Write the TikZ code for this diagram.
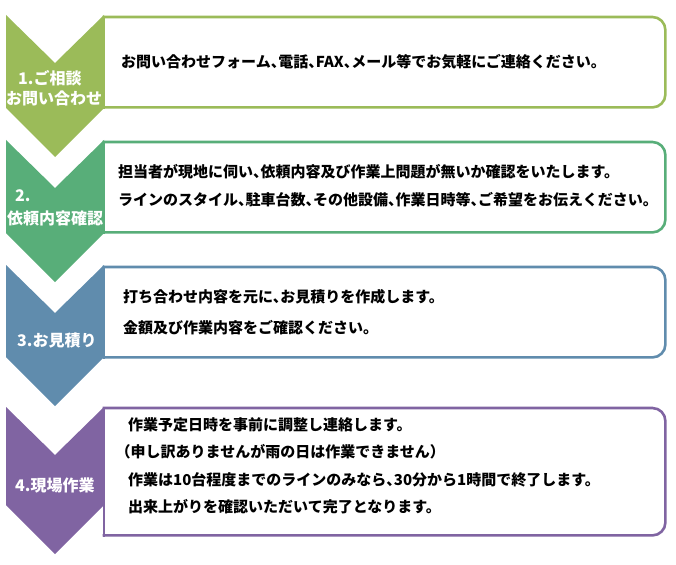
\documentclass[tikz,border=0pt]{standalone}
\usepackage{fontspec}
\setmainfont{Noto Sans CJK JP}[RawFeature=+halt]
\usetikzlibrary{positioning}

\definecolor{stepA}{RGB}{155,187,89}
\definecolor{stepB}{RGB}{88,174,121}
\definecolor{stepC}{RGB}{96,140,173}
\definecolor{stepD}{RGB}{128,100,162}

\newcommand{\chevron}[3]{% colour, top, bottom
  \fill[#1] (6,#2) -- (55,#2+48) -- (104,#2) -- (104,#3) -- (55,#3+49) -- (6,#3) -- cycle;}
\newcommand{\boxline}[2]{% node, colour
  \draw[#2,line width=2.6pt,line cap=rect,rounded corners=13pt] (#1.south west) -- (#1.south east) -- (#1.north east) -- (#1.north west);
  \draw[#2,line width=2.6pt,line cap=rect] (#1.south west) -- (#1.north west);}

\begin{document}
\begin{tikzpicture}[x=1pt,y=-1pt]
          \tikzstyle{every node}=[inner sep=0pt]
          \tikzstyle{stepbox}=[fill=white,anchor=north west,minimum width=561pt]
          \tikzstyle{body}=[anchor=west,font=\fontsize{15}{17}\selectfont\bfseries,text=black]
          \tikzstyle{label}=[anchor=west,font=\fontsize{16}{18}\selectfont\bfseries,text=white]
          \useasboundingbox (0,0) rectangle (676,564);

          % boxes
          \node[stepbox,minimum height=90pt]  (box1) at (104,17)  {};
          \node[stepbox,minimum height=90pt]  (box2) at (104,142) {};
          \node[stepbox,minimum height=90pt]  (box3) at (104,267) {};
          \node[stepbox,minimum height=127pt] (box4) at (104,408) {};
          \boxline{box1}{stepA}
          \boxline{box2}{stepB}
          \boxline{box3}{stepC}
          \boxline{box4}{stepD}

          % arrows on the left
          \chevron{stepA}{15}{108}
          \chevron{stepB}{140}{233}
          \chevron{stepC}{265}{357}
          \chevron{stepD}{407}{505}

          \node[label] (lab1a) at (18,78)  {1.ご相談};
          \node[label] (lab1b) at (6,98)   {お問い合わせ};
          \node[label] (lab2a) at (15,196) {2.};
          \node[label] (lab2b) at (7,218)  {依頼内容確認};
          \node[label] (lab3)  at (17,340) {3.お見積り};
          \node[label] (lab4)  at (15,485) {4.現場作業};

          \node[body] (txt1)  at (121,62)  {お問い合わせフォーム、電話、FAX、メール等でお気軽にご連絡ください。};
          \node[body] (txt2a) at (118,172) {担当者が現地に伺い、依頼内容及び作業上問題が無いか確認をいたします。};
          \node[body] (txt2b) at (118,200) {ラインのスタイル、駐車台数、その他設備、作業日時等、ご希望をお伝えください。};
          \node[body] (txt3a) at (123,297) {打ち合わせ内容を元に、お見積りを作成します。};
          \node[body] (txt3b) at (123,328) {金額及び作業内容をご確認ください。};
          \node[body] (txt4a) at (128,425) {作業予定日時を事前に調整し連絡します。};
          \node[body] (txt4b) at (123,452) {（申し訳ありませんが雨の日は作業できません）};
          \node[body] (txt4c) at (128,480) {作業は10台程度までのラインのみなら、30分から1時間で終了します。};
          \node[body] (txt4d) at (128,507) {出来上がりを確認いただいて完了となります。};
\end{tikzpicture}
\end{document}
